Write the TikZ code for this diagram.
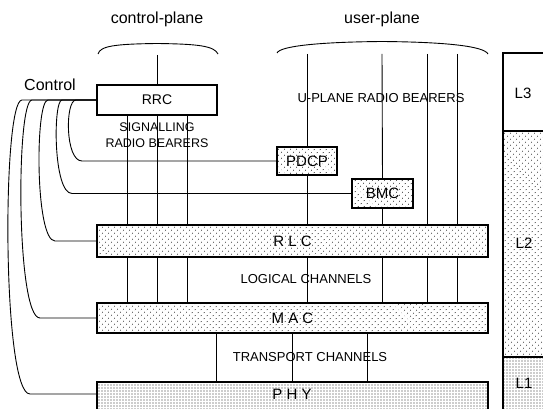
\documentclass[tikz,border=0pt]{standalone}
\usepackage{fontspec}
\setmainfont{Liberation Sans}
\usetikzlibrary{patterns.meta}
\begin{document}
\begin{tikzpicture}[x=1pt,y=-1pt,
  every node/.style={inner sep=0pt,outer sep=0pt},
  ln/.style={line width=0.9pt},
  box/.style={draw,line width=1.2pt,rectangle},
  dotbox/.style={box,pattern={Dots[distance=4pt,angle=45,radius=0.6pt]},pattern color=black!85},
  densebox/.style={box,pattern={Dots[distance=3pt,radius=0.55pt]},pattern color=black!85},
  big/.style={font=\fontsize{16}{18}\selectfont},
  lyr/.style={font=\fontsize{15}{17}\selectfont},
  lbl/.style={font=\fontsize{13}{15}\selectfont}]
\useasboundingbox (0,0) rectangle (543,409);
\clip (0,0) rectangle (543,409);
% boxes
\node[box,minimum width=120pt,minimum height=30pt,font=\fontsize{14}{16}\selectfont] (rrc) at (157,100) {RRC};
\node[dotbox,minimum width=60pt,minimum height=28pt,lyr] (pdcp) at (307,161) {PDCP};
\node[dotbox,minimum width=61pt,minimum height=29pt,lyr] (bmc) at (382.5,193.5) {BMC};
\node[dotbox,minimum width=391pt,minimum height=32pt,lyr] (rlc) at (292.5,241) {R L C};
\node[dotbox,minimum width=391pt,minimum height=30pt,lyr] (mac) at (292.5,318) {M A C};
\node[densebox,minimum width=391pt,minimum height=40pt] (phy) at (292.5,402) {};
\node[lyr] (phyt) at (292,394) {P H Y};
% right layer bar
\node[box,minimum width=60pt,minimum height=78pt,anchor=north west] (l3) at (503,53) {};
\node[dotbox,minimum width=60pt,minimum height=226pt,anchor=north west] (l2) at (503,131) {};
\node[densebox,minimum width=60pt,minimum height=70pt,anchor=north west] (l1) at (503,357) {};
\node[lyr] (l3t) at (523,93) {L3};
\node[lyr] (l2t) at (524,243) {L2};
\node[lyr] (l1t) at (524,383) {L1};
% labels
\node[big] (cpl) at (157,19) {control-plane};
\node[big] (upl) at (382,19) {user-plane};
\node[big] (ctl) at (50,85) {Control};
\node[font=\fontsize{12.5}{16.3}\selectfont,align=center] (srb) at (157,135) {SIGNALLING\\RADIO BEARERS};
\node[lbl] (urb) at (381,98) {U-PLANE RADIO BEARERS};
\node[lbl] (lch) at (306,279) {LOGICAL CHANNELS};
\node[lbl] (tch) at (310,357) {TRANSPORT CHANNELS};
% braces
\draw[ln] (98,54) .. controls (100,46) and (115,44) .. (157,43.5) .. controls (199,44) and (214,46) .. (218,54);
\draw[ln] (277,53) .. controls (280,46) and (320,42) .. (382,41.5) .. controls (444,42) and (484,46) .. (488,54);
\coordinate (cps) at (157,55);
\coordinate (ups1) at (307,54);
\coordinate (ups2) at (382,54);
\coordinate (ups3) at (427,54);
\coordinate (ups4) at (457,54);
\draw[ln] (cps) -- (rrc.north);
\draw[ln] (ups1) -- (pdcp.north);
\draw[ln] (ups2) -- (bmc.north);
\draw[ln] (ups3) -- (ups3 |- rlc.north);
\draw[ln] (ups4) -- (ups4 |- rlc.north);
\draw[ln] (pdcp.south) -- (pdcp.south |- rlc.north);
\draw[ln] (bmc.south) -- (bmc.south |- rlc.north);
% x positions
\coordinate (cx1) at (127,0);
\coordinate (cx2) at (157,0);
\coordinate (cx3) at (187,0);
\coordinate (tx1) at (216,0);
\coordinate (tx2) at (292,0);
\coordinate (tx3) at (367,0);
\foreach \c in {cx1,cx2,cx3} {
  \draw[ln] (rrc.south -| \c) -- (rlc.north -| \c);
  \draw[ln] (rlc.south -| \c) -- (mac.north -| \c);
}
\foreach \c in {ups1,ups2,ups3,ups4} {
  \draw[ln] (rlc.south -| \c) -- (mac.north -| \c);
}
\foreach \c in {tx1,tx2,tx3} {
  \draw[ln] (mac.south -| \c) -- (phy.north -| \c);
}
% control curves
\draw[ln] (rrc.west) -- (22,100) .. controls (2,100) and (2,394) .. (30,394) -- (phy.west |- phyt);
\draw[ln] (rrc.west) -- (32,100) .. controls (16,100) and (16,318) .. (40,318) -- (mac.west);
\draw[ln] (rrc.west) -- (48,100) .. controls (35,100) and (35,241) .. (55,241) -- (rlc.west);
\draw[ln] (rrc.west) -- (62,100) .. controls (53,100) and (53,193.5) .. (72,193.5) -- (bmc.west);
\draw[ln] (rrc.west) -- (76,100) .. controls (65,100) and (65,161) .. (82,161) -- (pdcp.west);
\end{tikzpicture}
\end{document}
